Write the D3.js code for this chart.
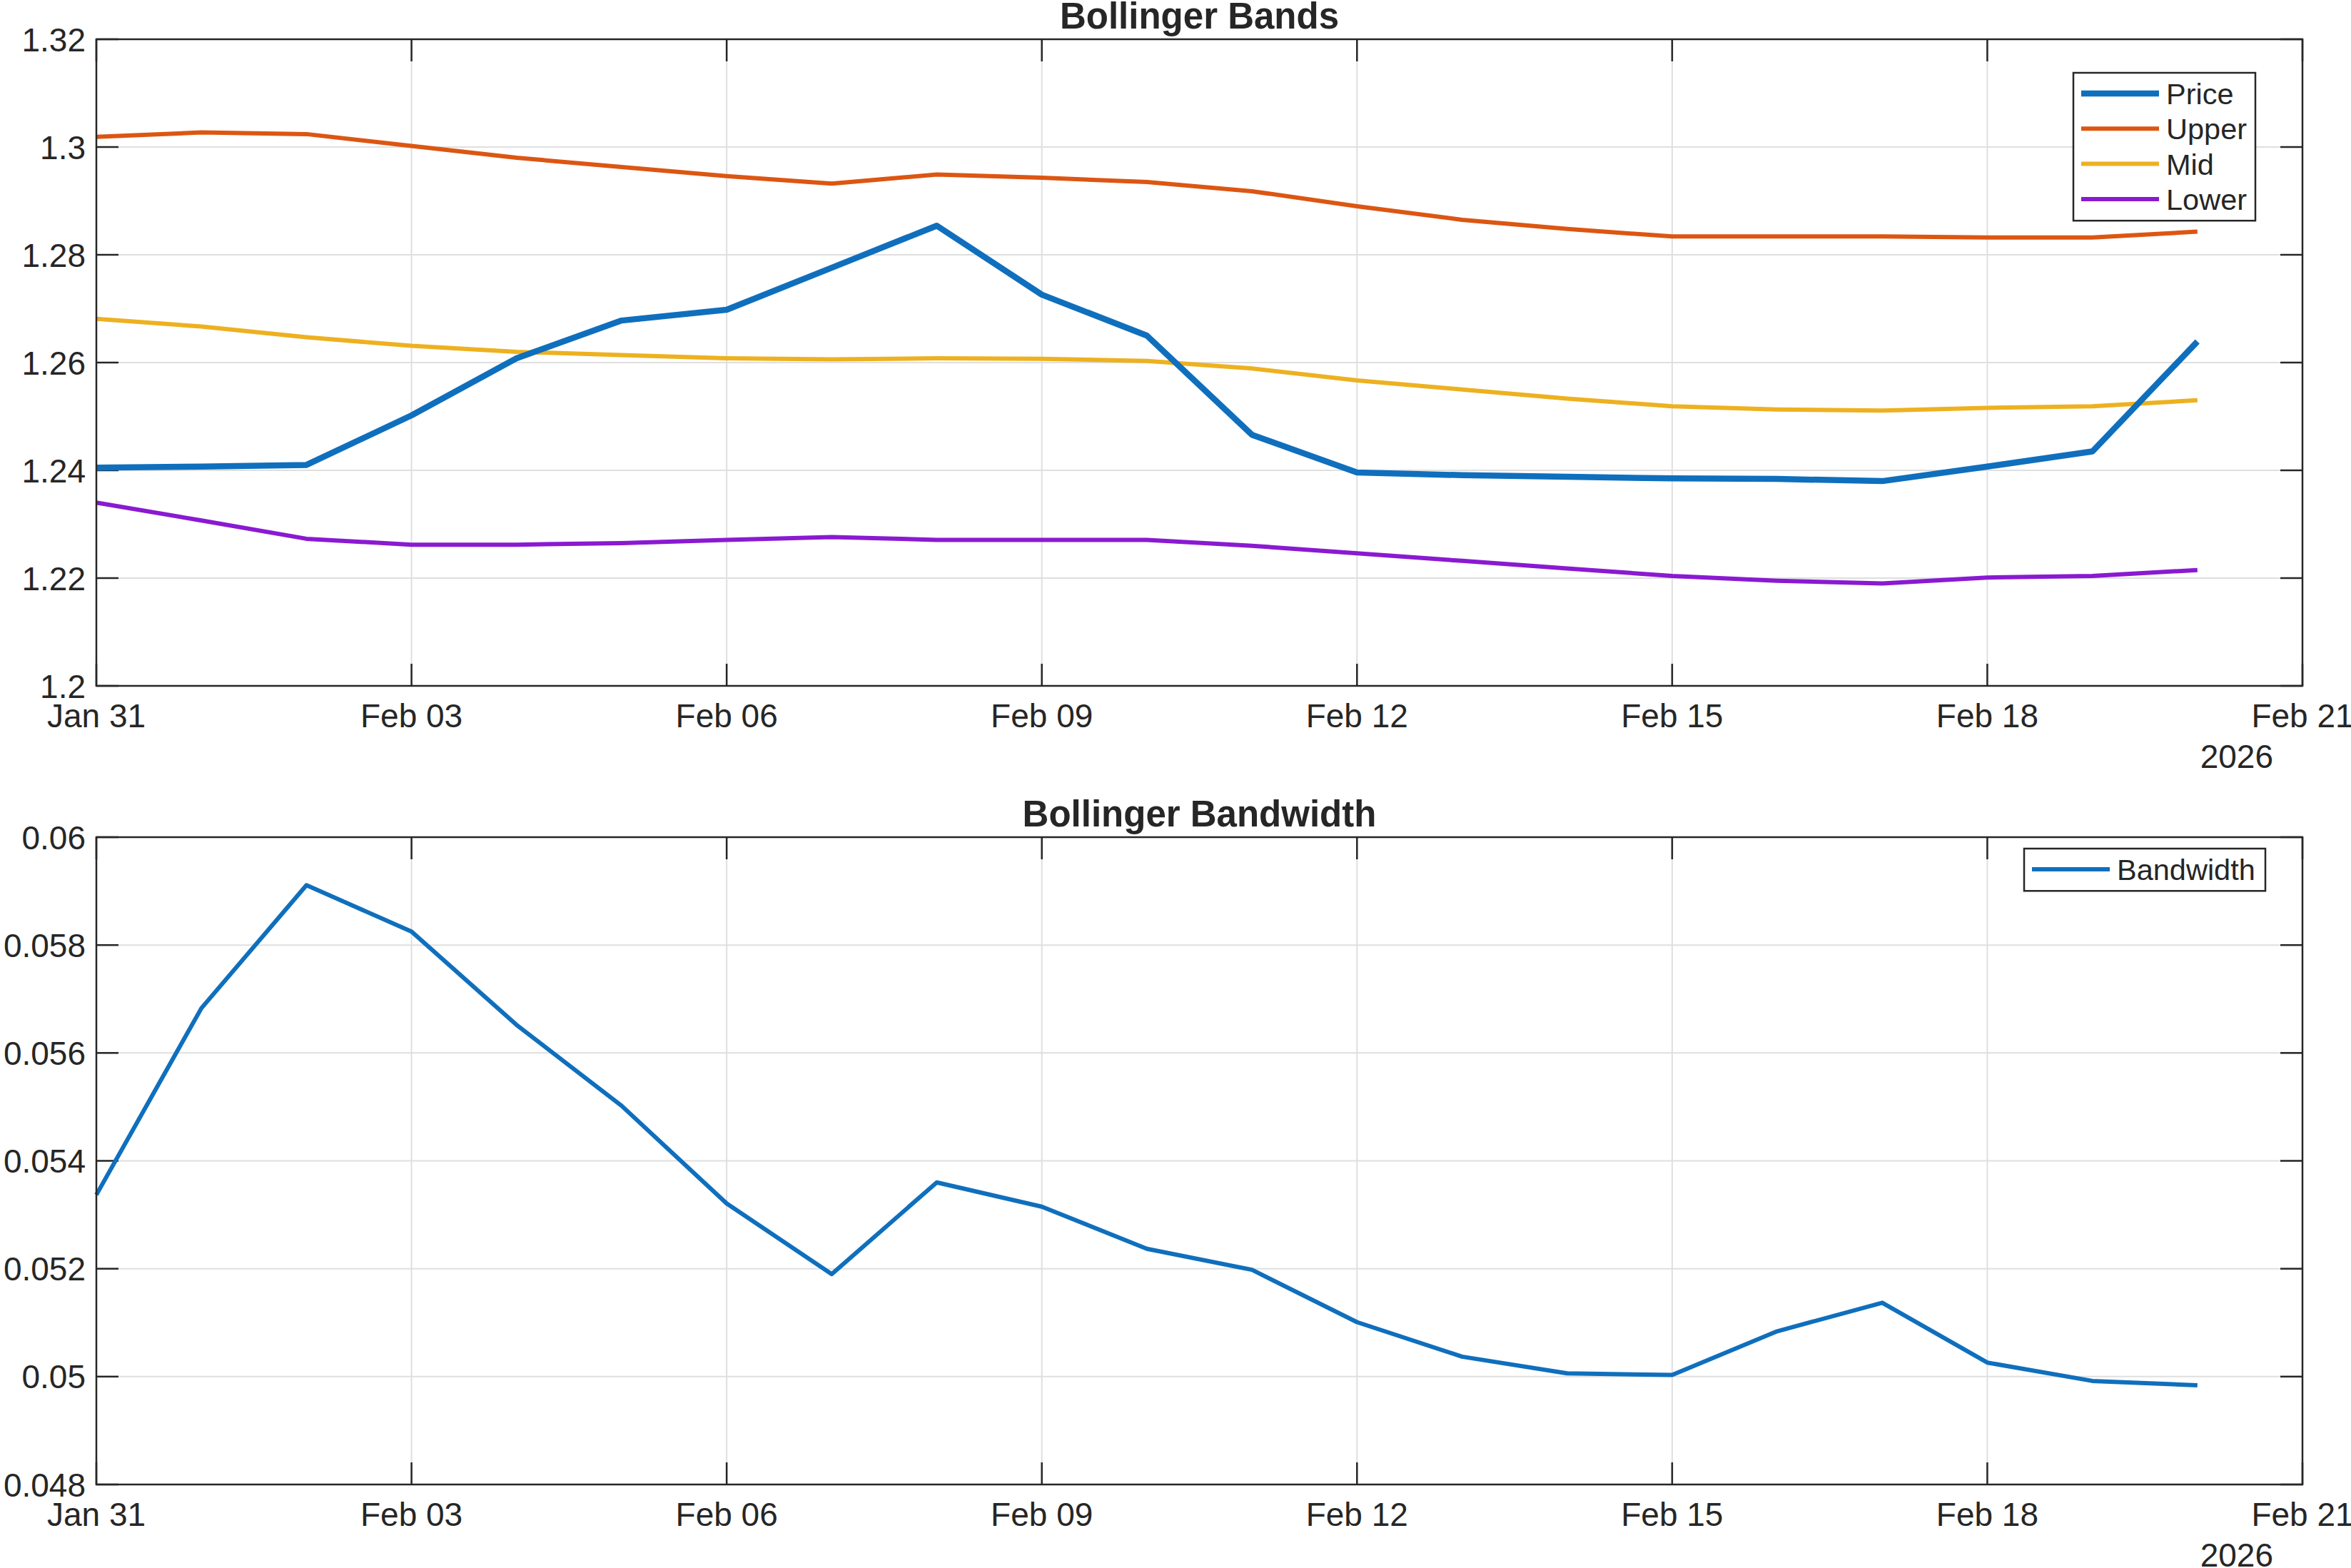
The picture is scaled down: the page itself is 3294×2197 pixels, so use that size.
<!DOCTYPE html>
<html>
<head>
<meta charset="utf-8">
<script src="https://cdn.jsdelivr.net/npm/d3@7"></script>
<style>
  body { margin: 0; background: #fff; }
  svg text { font-family: "Liberation Sans", Arial, Helvetica, sans-serif; fill: #262626; }
  .grid line { stroke: #dfdfdf; stroke-width: 2; }
  .frame { fill: none; stroke: #262626; stroke-width: 2.5; }
  .tick-mark { stroke: #262626; stroke-width: 2.5; }
</style>
</head>
<body>
<div id="chart"></div>
<script>
// daily dates, Jan 31 .. Feb 20 2026
var dates = ["2026-01-31","2026-02-01","2026-02-02","2026-02-03","2026-02-04","2026-02-05","2026-02-06",
             "2026-02-07","2026-02-08","2026-02-09","2026-02-10","2026-02-11","2026-02-12","2026-02-13",
             "2026-02-14","2026-02-15","2026-02-16","2026-02-17","2026-02-18","2026-02-19","2026-02-20"];

var price = [1.2405, 1.2407, 1.2410, 1.2502, 1.2608, 1.2678, 1.2698, 1.2776, 1.2854, 1.2726, 1.2650,
             1.2466, 1.2396, 1.2391, 1.2388, 1.2385, 1.2384, 1.2380, 1.2407, 1.2435, 1.2639];
var upper = [1.3019, 1.3027, 1.3024, 1.3002, 1.2980, 1.2963, 1.2946, 1.2932, 1.2949, 1.2943, 1.2935,
             1.2918, 1.2890, 1.2865, 1.2848, 1.2834, 1.2834, 1.2834, 1.2832, 1.2832, 1.2843];
var mid   = [1.2681, 1.2667, 1.2647, 1.2631, 1.2620, 1.2614, 1.2608, 1.2606, 1.2608, 1.2607, 1.2603,
             1.2589, 1.2567, 1.2550, 1.2533, 1.2519, 1.2513, 1.2511, 1.2516, 1.2519, 1.2530];
var lower = [1.2340, 1.2307, 1.2273, 1.2262, 1.2262, 1.2265, 1.2271, 1.2276, 1.2271, 1.2271, 1.2271,
             1.2260, 1.2246, 1.2232, 1.2218, 1.2204, 1.2195, 1.2190, 1.2201, 1.2204, 1.2215];
var bandwidth = [0.05337, 0.05683, 0.05911, 0.05825, 0.05652, 0.05502, 0.05321, 0.05190, 0.05360, 0.05315, 0.05237,
                 0.05198, 0.05101, 0.05037, 0.05006, 0.05003, 0.05084, 0.05137, 0.05026, 0.04992, 0.04984];

var bandTicks = [1.2, 1.22, 1.24, 1.26, 1.28, 1.3, 1.32];
var bwTicks = [0.048, 0.05, 0.052, 0.054, 0.056, 0.058, 0.06];

var parseDate = d3.utcParse("%Y-%m-%d");
var days = dates.map(parseDate);

var W = 3294, H = 2197;
var left = 135, right = 3226;
var tickLen = 31;

var svg = d3.select("#chart").append("svg")
    .attr("width", W)
    .attr("height", H);

var xScale = d3.scaleUtc()
    .domain([parseDate("2026-01-31"), parseDate("2026-02-21")])
    .range([left, right]);
var xTicks = d3.utcDay.every(3).range(parseDate("2026-01-31"), parseDate("2026-02-22"))
    .filter(d => d <= parseDate("2026-02-21"));
// utcDay.every(3) is relative to month start, so build ticks by hand from Jan 31
xTicks = d3.range(0, 22, 3).map(i => d3.utcDay.offset(parseDate("2026-01-31"), i));
var fmt = d3.utcFormat("%b %d");

function drawAxes(g, y, top, bottom, yTicks, yFmt, title) {
    // grid
    var grid = g.append("g").attr("class", "grid");
    grid.selectAll(".gx").data(xTicks.slice(1, -1)).enter().append("line")
        .attr("x1", d => xScale(d)).attr("x2", d => xScale(d))
        .attr("y1", top).attr("y2", bottom);
    grid.selectAll(".gy").data(yTicks.slice(1, -1)).enter().append("line")
        .attr("x1", left).attr("x2", right)
        .attr("y1", d => y(d)).attr("y2", d => y(d));

    // tick marks on all four sides, inward
    var tk = g.append("g");
    xTicks.forEach(function(d) {
        tk.append("line").attr("class", "tick-mark")
            .attr("x1", xScale(d)).attr("x2", xScale(d)).attr("y1", bottom).attr("y2", bottom - tickLen);
        tk.append("line").attr("class", "tick-mark")
            .attr("x1", xScale(d)).attr("x2", xScale(d)).attr("y1", top).attr("y2", top + tickLen);
    });
    yTicks.forEach(function(d) {
        tk.append("line").attr("class", "tick-mark")
            .attr("x1", left).attr("x2", left + tickLen).attr("y1", y(d)).attr("y2", y(d));
        tk.append("line").attr("class", "tick-mark")
            .attr("x1", right).attr("x2", right - tickLen).attr("y1", y(d)).attr("y2", y(d));
    });

    // labels
    g.selectAll(".ylab").data(yTicks).enter().append("text")
        .attr("x", left - 15).attr("y", d => y(d))
        .attr("dy", "0.36em")
        .attr("text-anchor", "end")
        .style("font-size", "46px")
        .text(yFmt);
    g.selectAll(".xlab").data(xTicks).enter().append("text")
        .attr("x", d => xScale(d)).attr("y", bottom + 58)
        .attr("text-anchor", "middle")
        .style("font-size", "46px")
        .text(d => fmt(d));
    g.append("text")
        .attr("x", 3185).attr("y", bottom + 115)
        .attr("text-anchor", "end")
        .style("font-size", "46px")
        .text("2026");

    g.append("text")
        .attr("x", (left + right) / 2).attr("y", top - 15)
        .attr("text-anchor", "middle")
        .style("font-size", "51px")
        .style("font-weight", "bold")
        .text(title);
}

function drawLegend(g, x0, y0, w, items) {
    var rowH = 49.3;
    var h = items.length * rowH + 10;
    g.append("rect")
        .attr("x", x0).attr("y", y0).attr("width", w).attr("height", h)
        .attr("fill", "#fff").attr("stroke", "#262626").attr("stroke-width", 2.5);
    items.forEach(function(it, i) {
        var cy = y0 + 29 + i * rowH;
        g.append("line")
            .attr("x1", x0 + 11).attr("x2", x0 + 120)
            .attr("y1", cy).attr("y2", cy)
            .attr("stroke", it.color).attr("stroke-width", it.width);
        g.append("text")
            .attr("x", x0 + 130).attr("y", cy).attr("dy", "0.36em")
            .style("font-size", "41.5px")
            .text(it.name);
    });
}

// ---- top: Bollinger Bands ----
var top1 = 55, bot1 = 961;
var y1 = d3.scaleLinear().domain([1.2, 1.32]).range([bot1, top1]);
var g1 = svg.append("g");
drawAxes(g1, y1, top1, bot1, bandTicks, d => d3.format("")(+d.toFixed(2)), "Bollinger Bands");

var series = [
    {name: "Price", values: price, color: "#0f6fbd", width: 8.5},
    {name: "Upper", values: upper, color: "#dc5612", width: 6},
    {name: "Mid",   values: mid,   color: "#edb120", width: 6},
    {name: "Lower", values: lower, color: "#8a1ad1", width: 6}
];
var line1 = d3.line().x((d, i) => xScale(days[i])).y(d => y1(d));
// draw bands first, price on top
series.slice(1).concat(series.slice(0, 1)).forEach(function(s) {
    g1.append("path")
        .attr("d", line1(s.values))
        .attr("fill", "none")
        .attr("stroke", s.color)
        .attr("stroke-width", s.width)
        .attr("stroke-linejoin", "round");
});
g1.append("rect").attr("class", "frame")
    .attr("x", left).attr("y", top1).attr("width", right - left).attr("height", bot1 - top1);
drawLegend(g1, 2905, 102, 255, series);

// ---- bottom: Bollinger Bandwidth ----
var top2 = 1173, bot2 = 2080;
var y2 = d3.scaleLinear().domain([0.048, 0.06]).range([bot2, top2]);
var g2 = svg.append("g");
drawAxes(g2, y2, top2, bot2, bwTicks, d => d3.format("")(+d.toFixed(3)), "Bollinger Bandwidth");

var line2 = d3.line().x((d, i) => xScale(days[i])).y(d => y2(d));
g2.append("path")
    .attr("d", line2(bandwidth))
    .attr("fill", "none")
    .attr("stroke", "#0f6fbd")
    .attr("stroke-width", 6)
    .attr("stroke-linejoin", "round");
g2.append("rect").attr("class", "frame")
    .attr("x", left).attr("y", top2).attr("width", right - left).attr("height", bot2 - top2);
drawLegend(g2, 2836, 1189, 338, [{name: "Bandwidth", color: "#0f6fbd", width: 6}]);
</script>
</body>
</html>
